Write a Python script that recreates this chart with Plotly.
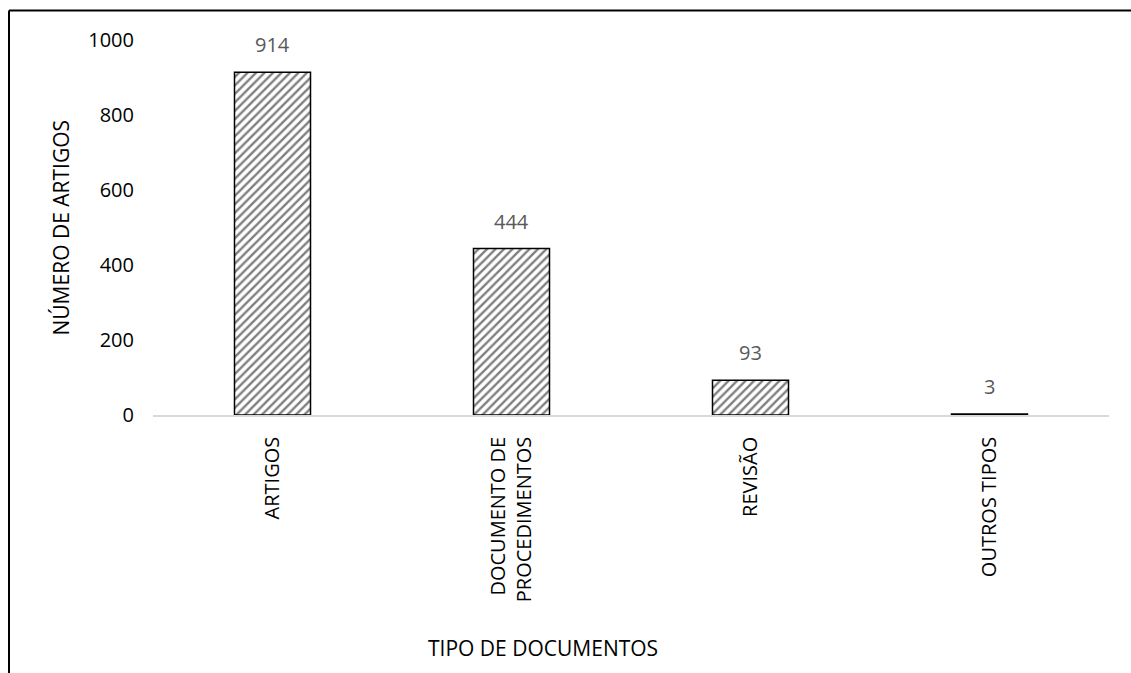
import plotly.graph_objects as go

# Document types and counts
categories = ["ARTIGOS", "DOCUMENTO DE<br>PROCEDIMENTOS", "REVISÃO", "OUTROS TIPOS"]
counts = [914, 444, 93, 3]
y_ticks = [0, 200, 400, 600, 800, 1000]

FONT = "Open Sans"
W, H = 1131, 673
L, R, T, B = 153, 22, 40, 258
pw, ph = W - L - R, H - T - B


def px_x(x):
    return (x - L) / pw


def px_y(y):
    return (H - B - y) / ph


fig = go.Figure()
fig.add_trace(go.Bar(
    x=categories,
    y=counts,
    width=0.318,
    marker=dict(
        color="white",
        line=dict(color="black", width=1.5),
        pattern=dict(shape="/", fgcolor="black", bgcolor="white", size=6, solidity=0.4),
    ),
    showlegend=False,
    hoverinfo="x+y",
))

# value labels above each bar
for c, v in zip(categories, counts):
    fig.add_annotation(
        x=c, y=v, text=str(v), showarrow=False,
        yanchor="bottom", yshift=12,
        font=dict(family=FONT, size=20, color="#595959"),
    )

# axis titles
fig.add_annotation(
    xref="paper", yref="paper", x=px_x(60), y=0.5, text="NÚMERO DE ARTIGOS",
    textangle=-90, showarrow=False, xanchor="center", yanchor="middle",
    font=dict(family=FONT, size=21, color="black"),
)
fig.add_annotation(
    xref="paper", yref="paper", x=px_x(543), y=px_y(648), text="TIPO DE DOCUMENTOS",
    showarrow=False, xanchor="center", yanchor="middle",
    font=dict(family=FONT, size=21, color="black"),
)

# outer frame (top and left edges)
frame = dict(color="black", width=2)
fig.add_shape(type="line", xref="paper", yref="paper",
              x0=px_x(9), x1=px_x(W + 5), y0=px_y(10.5), y1=px_y(10.5), line=frame)
fig.add_shape(type="line", xref="paper", yref="paper",
              x0=px_x(9), x1=px_x(9), y0=px_y(10.5), y1=px_y(H + 5), line=frame)

fig.update_layout(
    width=W, height=H,
    margin=dict(l=L, r=R, t=T, b=B, pad=0),
    paper_bgcolor="white", plot_bgcolor="white",
    font=dict(family=FONT, size=20, color="black"),
    bargap=0.682,
    xaxis=dict(
        showgrid=False, showline=True, linecolor="#d9d9d9", linewidth=1.5,
        ticks="", tickangle=-90, ticklabelstandoff=12,
        tickfont=dict(family=FONT, size=20, color="black"),
    ),
    yaxis=dict(
        range=[0, 1000], tickvals=y_ticks, showgrid=False, zeroline=False,
        showline=False, ticks="", ticklabelstandoff=18,
        tickfont=dict(family=FONT, size=20, color="black"),
    ),
)

fig.write_html("out.html")
